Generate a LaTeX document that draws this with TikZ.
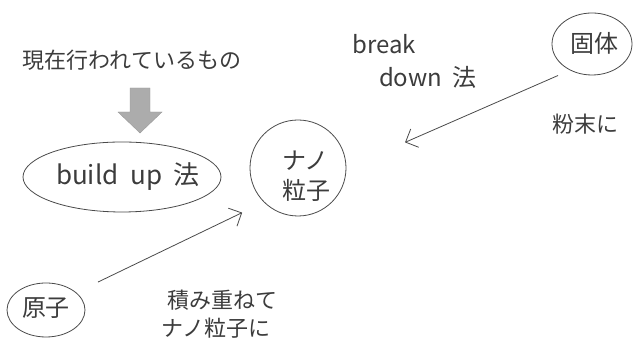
\documentclass[tikz,border=0pt]{standalone}
\usepackage{fontspec}
\setmainfont{Noto Sans CJK JP}
\usetikzlibrary{arrows.meta,shapes.geometric}
\definecolor{pencil}{HTML}{4A4A4A}
\definecolor{ink}{HTML}{3C3C3C}
\tikzset{
  lbl/.style={text=ink, inner sep=0pt},
  oval/.style={ellipse, draw=pencil, line width=0.8pt, inner sep=0pt},
  conn/.style={draw=pencil, line width=0.8pt, -{Straight Barb[length=10pt,width=20pt,line width=0.8pt]}},
}
\begin{document}
\begin{tikzpicture}[x=1pt,y=1pt]
\useasboundingbox (0,0) rectangle (635,352);
% title
\node[lbl, font=\fontsize{22}{24}\selectfont] (title) at (132,292) {現在行われているもの};
% gray arrow
\filldraw[fill=gray!65, draw=gray!80] (130,264) -- (150,264) -- (150,240) -- (162,240) -- (140,219) -- (118,240) -- (130,240) -- cycle;
% build up ellipse
\node[oval, minimum width=198pt, minimum height=70pt] (buildup) at (122,175) {};
\node[lbl, font=\fontsize{26}{28}\selectfont] (buildupt) at (128,175) {build\ \ up\ \ 法};
% nano circle
\node[circle, draw=pencil, line width=0.8pt, minimum size=96pt, inner sep=0pt] (nano) at (298,184) {};
\node[lbl, font=\fontsize{24}{30}\selectfont, align=left] (nanot) at (306,176) {ナノ\\粒子};
% break down
\node[lbl, font=\fontsize{24}{26}\selectfont] (break) at (384,308) {break};
\node[lbl, font=\fontsize{24}{26}\selectfont] (down) at (428,275) {down\ \ 法};
% kotai
\node[oval, minimum width=80pt, minimum height=62pt] (kotai) at (592,308) {};
\node[lbl, font=\fontsize{24}{26}\selectfont] (kotait) at (594,309) {固体};
\node[lbl, font=\fontsize{22}{24}\selectfont] (funmatsu) at (585,228) {粉末に};
% genshi
\node[oval, minimum width=78pt, minimum height=54pt] (genshi) at (46,42) {};
\node[lbl, font=\fontsize{24}{26}\selectfont] (genshit) at (46,44) {原子};
\node[lbl, font=\fontsize{22}{24}\selectfont] (tsumi) at (222,52) {積み重ねて};
\node[lbl, font=\fontsize{22}{24}\selectfont] (nanoni) at (216,24) {ナノ粒子に};
% connectors
\draw[conn, shorten <=13pt, shorten >=64pt] (kotai.230) -- (nano.0);
\draw[conn, shorten <=24pt, shorten >=24pt] (genshi.30) -- (nano.225);
\end{tikzpicture}
\end{document}
